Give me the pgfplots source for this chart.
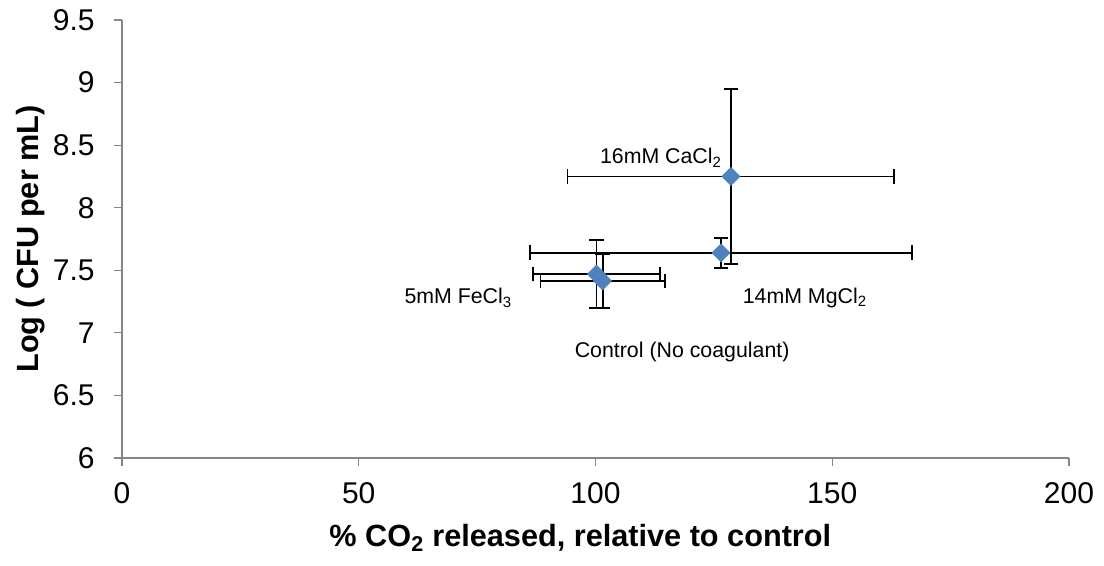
\documentclass[border=0pt]{standalone}
\usepackage{pgfplots}
\pgfplotsset{compat=1.18}
\usepackage{fontspec}
\setmainfont{Liberation Sans}
\definecolor{mblue}{HTML}{4F81BD}
\definecolor{axgray}{HTML}{868686}
\begin{document}
\begin{tikzpicture}
\path[use as bounding box] (-91.5pt,-80.25pt) rectangle (736.5pt,343.5pt);
\begin{axis}[
  at={(0,0)}, anchor=south west,
  scale only axis, width=710.25pt, height=328.5pt,
  xmin=0, xmax=200, ymin=6, ymax=9.5,
  xtick={0,50,100,150,200},
  ytick={6,6.5,7,7.5,8,8.5,9,9.5},
  axis x line=bottom, axis y line=left,
  axis line style={-, axgray, line width=0.9pt},
  tick style={axgray, line width=0.9pt},
  tick align=outside, major tick length=6pt,
  /pgf/number format/assume math mode=true,
  tick label style={font=\fontsize{22.5}{26}\selectfont, black},
  xticklabel style={yshift=-9pt},
  yticklabel style={xshift=-11pt},
  xlabel={\textbf{\% CO\textsubscript{2} released, relative to control}},
  ylabel={\textbf{Log ( CFU per mL)}},
  label style={font=\fontsize{23}{27}\selectfont},
  xlabel style={at={(axis description cs:0.484,-0.1826)}, anchor=center},
  ylabel style={at={(axis description cs:-0.097,0.5)}, anchor=center},
  clip=false,
]
% error bars
\addplot[draw=none, mark=none,
  error bars/.cd, x dir=both, x explicit, y dir=both, y explicit,
  error bar style={black, line width=1.35pt},
  error mark options={rotate=90, black, line width=1.35pt, mark size=5.5pt}]
  coordinates {
  (128.6,8.25) +- (34.5,0.70)
  (126.5,7.64) +- (40.3,0.12)
  (100.2,7.47) +- (13.4,0.27)
  (101.5,7.415) +- (13.1,0.215)
  };
% markers
\addplot[only marks, mark=square*, mark size=4.8pt,
  mark options={rotate=45, fill=mblue, draw=mblue}]
  coordinates {
  (128.6,8.25)
  (126.5,7.64)
  (100.2,7.47)
  (101.5,7.415)
  };
\node[font=\fontsize{16}{19}\selectfont] at (axis cs:113.8,8.40) {16mM CaCl\textsubscript{2}};
\node[font=\fontsize{16}{19}\selectfont] at (axis cs:144.2,7.28) {14mM MgCl\textsubscript{2}};
\node[font=\fontsize{16}{19}\selectfont] at (axis cs:71.0,7.28) {5mM FeCl\textsubscript{3}};
\node[font=\fontsize{16}{19}\selectfont] at (axis cs:118.3,6.85) {Control (No coagulant)};
\end{axis}
\end{tikzpicture}
\end{document}
